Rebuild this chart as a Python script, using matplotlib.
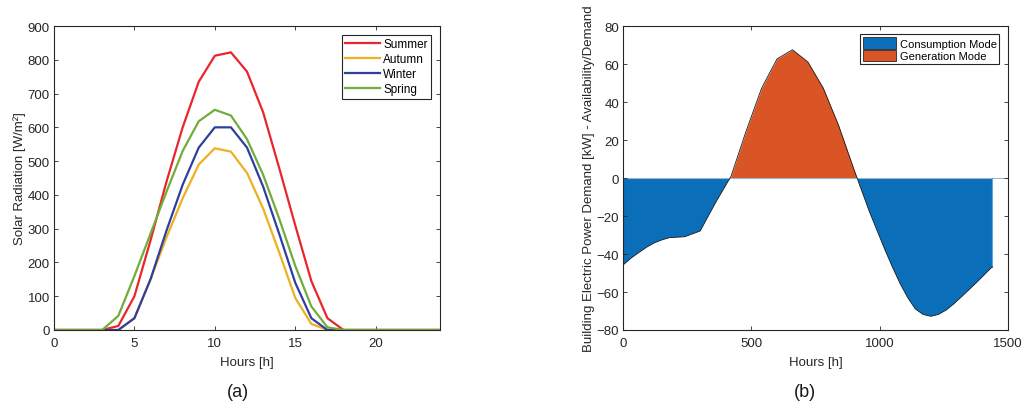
import matplotlib
matplotlib.use("Agg")
import matplotlib.pyplot as plt
from matplotlib.patches import Patch
import numpy as np

plt.rcParams['font.family'] = ['Liberation Sans', 'DejaVu Sans']

# ---- Panel (a) data ----
hours = list(range(0, 25))
summer = [0, 0, 0, 0, 12, 100, 265, 440, 600, 735, 812, 822, 765, 645, 480, 310, 145, 35, 0, 0, 0, 0, 0, 0, 0]
autumn = [0, 0, 0, 0, 0, 35, 150, 275, 390, 490, 538, 528, 465, 360, 230, 95, 18, 0, 0, 0, 0, 0, 0, 0, 0]
winter = [0, 0, 0, 0, 0, 35, 150, 295, 430, 540, 600, 600, 540, 425, 285, 140, 35, 0, 0, 0, 0, 0, 0, 0, 0]
spring = [0, 0, 0, 0, 42, 160, 285, 410, 530, 618, 652, 635, 565, 460, 330, 190, 70, 8, 0, 0, 0, 0, 0, 0, 0]
season_names = ['Summer', 'Autumn', 'Winter', 'Spring']
season_colors = ['#E8262B', '#EDB120', '#2E3F9E', '#72AC3A']

# ---- Panel (b) data ----
t_b = [0, 30, 60, 90, 120, 150, 180, 240, 300, 360, 420, 480, 540, 600, 660, 720, 780, 840, 900,
       960, 1020, 1050, 1080, 1110, 1140, 1170, 1200, 1230, 1260, 1290, 1320, 1380, 1440]
p_b = [-45.7, -42.2, -39.3, -36.5, -34.2, -32.6, -31.4, -30.9, -27.9, -13.0, 0.8, 25.0, 47.4, 62.7, 67.5,
       61.1, 47.4, 27.7, 4.5,
       -17.6, -37.5, -46.8, -55.5, -63.0, -69.0, -71.8, -72.8, -71.8, -69.5, -66.2, -62.5, -54.8, -46.7]

fig = plt.figure(figsize=(10.22, 4.06), dpi=100)
axc = '#262626'

def style(ax):
    for s in ax.spines.values():
        s.set_color('#262626')
        s.set_linewidth(0.8)
    ax.tick_params(direction='in', length=3, width=0.6, colors=axc, labelsize=9.5,
                   top=True, right=True)
    ax.tick_params(axis='x', pad=5)
    ax.tick_params(axis='y', pad=3)
    for lab in ax.get_xticklabels() + ax.get_yticklabels():
        lab.set_color('#262626')

# Panel (a)
ax1 = fig.add_axes([54 / 1022, 75 / 406, 386 / 1022, 304 / 406])
for vals, name, col in zip([summer, autumn, winter, spring], season_names, season_colors):
    ax1.plot(hours, vals, color=col, lw=1.6, label=name)
ax1.set_xlim(0, 24)
ax1.set_ylim(0, 900)
ax1.set_xticks([0, 5, 10, 15, 20])
ax1.set_yticks(range(0, 901, 100))
ax1.set_xlabel('Hours [h]', fontsize=9.5, color=axc, labelpad=5)
ax1.set_ylabel('Solar Radiation [W/m²]', fontsize=9.5, color=axc, labelpad=1)
style(ax1)
leg1 = ax1.legend(loc='upper right', fontsize=8.5, frameon=True, fancybox=False,
                  edgecolor='#262626', framealpha=1, handlelength=2.9, handletextpad=0.3,
                  borderpad=0.3, labelspacing=0.25, borderaxespad=0.75)
leg1.get_frame().set_linewidth(0.8)

# Panel (b)
ax2 = fig.add_axes([623.3 / 1022, 75 / 406, 384.4 / 1022, 304 / 406])
t_arr = np.array(t_b, dtype=float)
p_arr = np.array(p_b, dtype=float)
blue = '#0A6EB8'
orange = '#D95525'
ax2.fill_between(t_arr, p_arr, 0, where=p_arr <= 0, interpolate=True, color=blue, lw=0)
ax2.fill_between(t_arr, p_arr, 0, where=p_arr >= 0, interpolate=True, color=orange, lw=0)
ax2.axhline(0, color='#9FB5C8', lw=0.8, zorder=1.5)
ax2.plot([1440, 1440], [p_b[-1], 0], color='#5FA8E0', lw=0.8)
ax2.plot(t_arr, p_arr, color='#1a1a1a', lw=0.6)
ax2.set_xlim(0, 1500)
ax2.set_ylim(-80, 80)
ax2.set_xticks([0, 500, 1000, 1500])
ax2.set_yticks(range(-80, 81, 20))
ax2.set_xlabel('Hours [h]', fontsize=9.5, color=axc, labelpad=5)
ax2.set_ylabel('Building Electric Power Demand [kW] - Availability/Demand', fontsize=9.5,
               color=axc, labelpad=1)
style(ax2)
handles = [Patch(facecolor=blue, edgecolor='#262626', lw=0.6, label='Consumption Mode'),
           Patch(facecolor=orange, edgecolor='#262626', lw=0.6, label='Generation Mode')]
leg2 = ax2.legend(handles=handles, loc='upper right', fontsize=8, frameon=True, fancybox=False,
                  edgecolor='#262626', framealpha=1, handlelength=3.0, handleheight=1.2,
                  handletextpad=0.3, borderpad=0.25, labelspacing=0.1, borderaxespad=0.75)
leg2.get_frame().set_linewidth(0.8)

fig.text(238 / 1022, 1 - 393 / 406, '(a)', ha='center', va='center', fontsize=13, color='#1a1a1a')
fig.text(805 / 1022, 1 - 393 / 406, '(b)', ha='center', va='center', fontsize=13, color='#1a1a1a')

fig.savefig('out.png', dpi=100, facecolor='white')
